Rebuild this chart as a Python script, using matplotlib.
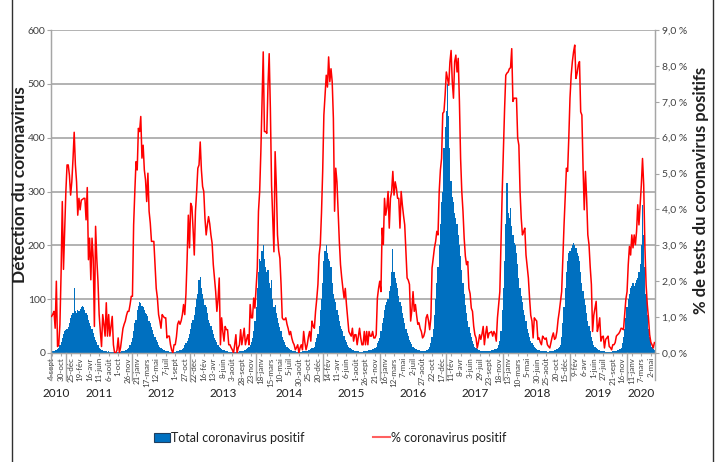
import numpy as np
import matplotlib.pyplot as plt
from matplotlib.lines import Line2D
from matplotlib.patches import Patch
import matplotlib.transforms as mtransforms

plt.rcParams['font.family'] = ['Lato', 'DejaVu Sans']

# weekly tick labels (every 8 weeks, from 4 Sept 2010)
tick_labels = ["4-sept", "30-oct",
               "25-déc", "19-fév", "16-avr", "11-juin", "6-août", "1-oct", "26-nov",
               "21-janv", "17-mars", "12-mai", "7-juil", "1-sept", "27-oct",
               "22-déc", "16-fév", "13-avr", "8-juin", "3-août", "28-sept", "23-nov",
               "18-janv", "15-mars", "10-mai", "5-juil", "30-août", "25-oct", "20-déc",
               "14-fév", "11-avr", "6-juin", "1-août", "26-sept", "21-nov",
               "16-janv", "12-mars", "7-mai", "2-juil", "27-août", "22-oct", "17-déc",
               "11-fév", "8-avr", "3-juin", "29-juil", "23-sept", "18-nov",
               "13-janv", "10-mars", "5-mai", "30-juin", "25-août", "20-oct", "15-déc",
               "9-fév", "6-avr", "1-juin", "27-juil", "21-sept", "16-nov",
               "11-janv", "7-mars", "2-mai"]
years = ["2010", "2011", "2012", "2013", "2014", "2015", "2016", "2017", "2018", "2019", "2020"]
year_sizes = [2, 7, 6, 7, 7, 6, 7, 6, 7, 6, 3]

# total positive detections per week, by season
pos_2010 = [2, 3, 3, 5, 5, 8, 10, 15, 20, 28, 35, 40, 42, 45, 48, 55, 65, 70, 75, 120,
            78, 75, 80, 78, 82, 85, 88, 85, 80, 75, 70, 62, 55, 50, 45, 38, 30, 25, 20, 15,
            10, 8, 5, 5, 4, 3, 3, 2, 3, 2, 2, 2, 1]
pos_2011 = [1, 1, 2, 1, 2, 2, 3, 3, 4, 5, 6, 8, 10, 14, 20, 28, 40, 55, 62, 80,
            88, 95, 92, 88, 85, 80, 75, 72, 68, 60, 55, 48, 42, 35, 30, 25, 20, 15, 12, 10,
            8, 6, 5, 4, 3, 3, 2, 2, 1, 1, 2, 2]
pos_2012 = [3, 3, 4, 5, 6, 8, 10, 14, 18, 22, 28, 35, 45, 55, 62, 70, 85, 100, 110, 135,
            141, 120, 110, 100, 90, 85, 75, 62, 55, 50, 42, 35, 28, 24, 20, 15, 12, 10, 8, 6,
            5, 4, 3, 3, 2, 2, 2, 1, 1, 2, 1, 2]
pos_2013 = [2, 3, 3, 4, 4, 5, 6, 8, 10, 12, 15, 20, 28, 40, 60, 85, 120, 150, 175, 170,
            190, 200, 175, 160, 150, 155, 130, 120, 135, 100, 85, 90, 75, 65, 55, 48, 40, 30, 25, 20,
            15, 12, 10, 8, 6, 5, 4, 3, 3, 2, 2, 2]
pos_2014 = [2, 2, 3, 3, 3, 4, 4, 5, 6, 8, 10, 10, 12, 20, 28, 35, 50, 80, 100, 130,
            170, 190, 200, 185, 175, 170, 160, 130, 110, 100, 95, 80, 70, 60, 50, 45, 40, 32, 25, 20,
            15, 12, 10, 8, 6, 5, 4, 3, 3, 3, 2, 2]
pos_2015 = [2, 3, 3, 3, 4, 4, 5, 5, 6, 8, 8, 10, 12, 18, 22, 28, 40, 55, 65, 80,
            90, 95, 100, 115, 125, 150, 193, 150, 140, 130, 120, 105, 95, 88, 75, 65, 55, 45, 38, 32,
            25, 20, 16, 12, 10, 8, 7, 6, 5, 4, 4, 3]
pos_2016 = [3, 4, 5, 6, 8, 12, 18, 30, 45, 70, 100, 130, 160, 200, 240, 280, 300, 380, 420, 450,
            500, 440, 380, 320, 290, 280, 260, 250, 240, 220, 200, 180, 155, 130, 110, 90, 75, 60, 48, 38,
            30, 22, 16, 12, 10, 8, 6, 5, 4, 4, 3, 3]
pos_2017 = [3, 3, 3, 4, 4, 5, 5, 6, 7, 8, 10, 15, 22, 40, 80, 120, 170, 240, 315, 260,
            250, 270, 235, 220, 205, 200, 185, 165, 140, 120, 105, 95, 80, 70, 60, 45, 38, 30, 22, 18,
            15, 12, 10, 8, 6, 5, 4, 4, 3, 3, 3, 3]
pos_2018 = [2, 2, 3, 3, 4, 4, 5, 6, 8, 10, 12, 15, 30, 55, 85, 120, 150, 170, 185, 190,
            195, 200, 205, 200, 195, 185, 180, 170, 150, 130, 115, 100, 90, 75, 60, 50, 40, 30, 22, 15,
            12, 10, 8, 6, 5, 4, 4, 3, 3, 2, 2, 2]
pos_2019 = [2, 2, 2, 3, 3, 4, 4, 5, 6, 8, 10, 18, 30, 45, 65, 85, 100, 110, 120, 125,
            130, 125, 130, 135, 140, 150, 165, 200, 275, 220, 160, 110, 70, 45, 30, 20, 12, 8, 5]

# % of positive tests per week, by season
pct_2010 = [1.02, 1.08, 1.16, 0.69, 2.0, 0.18, 0.23, 0.8, 2.25, 4.22, 2.33, 3.45, 4.5, 5.24, 5.24,
            4.95, 4.4, 4.77, 5.4, 6.15, 5.25, 4.77, 3.84, 4.31, 3.99, 4.26, 4.28, 4.31, 4.31, 3.71,
            4.61, 2.6, 3.2, 2.04, 3.2, 2.64, 0.74, 3.53, 2.64, 2.0, 1.07, 0.6, 0.18, 1.07, 0.8,
            0.47, 1.4, 0.47, 1.07, 0.47, 0.75, 1.02, 0.23]
pct_2011 = [0.0, 0.0, 0.08, 0.42, 0.0, 0.15, 0.42, 0.68, 0.8, 0.89, 1.05, 1.16, 1.16, 1.35, 1.58,
            1.58, 3.57, 4.5, 5.33, 5.1, 6.26, 6.17, 6.59, 5.43, 5.79, 5.1, 4.82, 4.22, 5.01, 3.95,
            3.62, 3.11, 3.11, 3.11, 2.46, 1.8, 1.53, 1.07, 0.9, 0.69, 1.07, 1.02, 0.98, 0.98, 0.42,
            0.47, 0.47, 0.23, 0.08, 0.0, 0.23, 0.23]
pct_2012 = [0.45, 0.8, 0.89, 0.8, 0.9, 1.07, 1.35, 1.07, 1.65, 2.64, 3.84, 2.93, 4.17, 4.08, 3.45,
            2.73, 3.95, 4.5, 5.15, 5.24, 5.88, 5.1, 4.64, 4.5, 3.75, 3.29, 3.57, 3.8, 3.6, 3.29,
            3.06, 2.46, 2.1, 1.71, 1.16, 1.5, 2.09, 0.23, 0.98, 0.6, 0.33, 0.74, 0.65, 0.65, 0.23,
            0.23, 0.15, 0.09, 0.0, 0.23, 0.51, 0.0]
pct_2013 = [0.15, 0.23, 0.65, 0.23, 0.45, 0.69, 0.23, 0.38, 0.51, 0.23, 1.35, 0.98, 0.98, 1.53, 1.25,
            1.8, 2.37, 3.95, 4.5, 5.61, 7.01, 8.39, 6.17, 6.17, 6.12, 7.46, 8.34, 6.81, 4.68, 3.75,
            2.82, 5.61, 4.68, 3.29, 2.85, 2.64, 1.91, 0.98, 0.93, 0.93, 0.98, 0.8, 0.68, 0.51, 0.6,
            0.42, 0.3, 0.23, 0.09, 0.15, 0.23, 0.0]
pct_2014 = [0.15, 0.23, 0.09, 0.6, 0.3, 0.09, 0.23, 0.45, 0.6, 0.33, 0.89, 0.75, 0.69, 1.16, 1.5,
            1.91, 2.73, 3.02, 3.9, 5.06, 6.63, 7.2, 7.74, 7.41, 8.25, 7.56, 7.92, 7.56, 6.54, 3.95,
            5.15, 4.77, 3.95, 3.11, 2.46, 2.1, 1.8, 1.53, 1.8, 1.35, 0.98, 0.6, 0.53, 0.47, 0.69,
            0.33, 0.51, 0.51, 0.23, 0.45, 0.69, 0.42]
pct_2015 = [0.23, 0.23, 0.6, 0.23, 0.6, 0.23, 0.6, 0.47, 0.47, 0.6, 0.42, 0.42, 0.51, 1.53, 1.8,
            2.0, 1.71, 3.48, 3.02, 4.31, 3.84, 4.05, 4.5, 3.48, 4.31, 4.5, 5.06, 4.4, 4.77, 4.59,
            4.31, 4.31, 3.48, 4.5, 4.13, 3.83, 3.57, 2.82, 2.09, 2.03, 1.91, 0.89, 1.2, 1.71, 1.16,
            1.35, 1.05, 0.8, 0.84, 0.68, 0.6, 0.42]
pct_2016 = [0.47, 0.6, 0.98, 1.07, 0.9, 0.65, 0.98, 2.37, 2.64, 2.93, 3.11, 3.39, 3.29, 4.5, 5.1,
            5.42, 6.68, 6.72, 7.2, 7.83, 7.65, 7.46, 8.1, 8.43, 7.56, 7.1, 8.12, 8.3, 7.83, 8.21,
            7.01, 5.42, 4.5, 3.95, 3.2, 2.7, 2.46, 2.55, 1.8, 1.65, 1.25, 1.16, 0.75, 0.51, 0.42,
            0.14, 0.3, 0.51, 0.38, 0.53, 0.74, 0.23]
pct_2017 = [0.53, 0.74, 0.42, 0.56, 0.57, 0.6, 0.47, 0.6, 0.53, 0.33, 0.98, 1.35, 1.71, 3.11, 4.5,
            5.7, 6.81, 7.74, 7.8, 7.83, 7.92, 7.95, 8.48, 7.01, 7.1, 7.1, 7.1, 5.99, 5.79, 4.5,
            3.75, 3.29, 3.38, 3.48, 2.73, 2.4, 2.09, 1.53, 1.05, 0.89, 0.42, 0.98, 0.93, 0.89, 0.38,
            0.42, 0.3, 0.23, 0.47, 0.42, 0.38, 0.42]
pct_2018 = [0.23, 0.18, 0.14, 0.29, 0.45, 0.56, 0.38, 0.42, 0.6, 0.93, 1.16, 1.43, 1.71, 2.64, 3.57,
            4.35, 5.15, 5.06, 6.0, 7.1, 7.74, 8.12, 8.39, 8.58, 7.65, 7.8, 8.03, 8.12, 6.72, 6.63,
            5.15, 3.99, 5.06, 4.31, 3.29, 3.02, 2.4, 1.91, 0.6, 1.05, 1.25, 1.44, 0.6, 0.75, 0.98,
            0.33, 0.45, 0.47, 0.14, 0.38, 0.42, 0.47]
pct_2019 = [0.18, 0.15, 0.09, 0.23, 0.23, 0.29, 0.47, 0.51, 0.54, 0.6, 0.69, 0.68, 0.65, 1.07, 1.5,
            1.71, 2.46, 2.97, 2.73, 3.29, 2.93, 3.29, 3.02, 3.39, 4.13, 3.57, 4.13, 4.68, 5.42, 4.68,
            2.97, 1.91, 1.35, 0.98, 0.51, 0.3, 0.23, 0.14, 0.29]

positifs = np.array(pos_2010 + pos_2011 + pos_2012 + pos_2013 + pos_2014 +
                    pos_2015 + pos_2016 + pos_2017 + pos_2018 + pos_2019)
pourcent = np.array(pct_2010 + pct_2011 + pct_2012 + pct_2013 + pct_2014 +
                    pct_2015 + pct_2016 + pct_2017 + pct_2018 + pct_2019)
weeks_bar = np.arange(len(positifs))
weeks_line = np.arange(len(pourcent))
n_weeks = max(len(positifs), len(pourcent))

blue = '#0070C0'
red = '#FF0000'
grid_gray = '#A6A6A6'
txt = '#404040'

fig = plt.figure(figsize=(7.19, 4.62), dpi=100)
ax = fig.add_axes([51 / 719, 1 - 353 / 462, 604 / 719, 323 / 462])

ax.bar(weeks_bar, positifs, width=1.0, color=blue, linewidth=0, zorder=2)
ax.set_xlim(-0.5, n_weeks - 0.5)
ax.set_ylim(0, 600)
ax.set_yticks(range(0, 601, 100))
ax.yaxis.grid(True, color=grid_gray, lw=1.2, zorder=0)
ax.set_axisbelow(True)
ax.tick_params(axis='y', labelsize=7.5, colors=txt, length=3, color=grid_gray, pad=1)

tick_pos = np.arange(len(tick_labels)) * 8
ax.set_xticks(tick_pos)
ax.set_xticklabels(tick_labels, rotation=90, fontsize=5.8, color=txt)
ax.tick_params(axis='x', length=2, color=grid_gray, pad=1)

ax.spines['top'].set_visible(False)
for s in ['left', 'right', 'bottom']:
    ax.spines[s].set_color(grid_gray)
    ax.spines[s].set_linewidth(1.0)

ax2 = ax.twinx()
ax2.plot(weeks_line, pourcent, color=red, lw=1.1, zorder=3)
ax2.set_ylim(0, 9)
ax2.set_yticks(range(0, 10))
ax2.set_yticklabels([f"{v},0 %" for v in range(0, 10)])
ax2.tick_params(axis='y', labelsize=7.5, colors=txt, length=3, color=grid_gray, pad=2)
ax2.spines['top'].set_visible(False)
for s in ['left', 'right', 'bottom']:
    ax2.spines[s].set_color(grid_gray)

# year groups under the tick labels
trans = mtransforms.blended_transform_factory(ax.transData, ax.transAxes)
start = 0
bounds = [-0.5]
for name, size in zip(years, year_sizes):
    grp = tick_pos[start:start + size]
    ax.text(grp.mean(), -0.108, name, transform=trans, ha='center', va='top',
            fontsize=8.5, color='#202020')
    start += size
    if start < len(tick_pos):
        bounds.append(tick_pos[start] - 4)
bounds.append(n_weeks - 0.5)
for b in bounds:
    ax.plot([b, b], [0, -0.085], transform=trans, color=grid_gray, lw=1.0, clip_on=False)

fig.text(20 / 719, 1 - 185 / 462, "Détection du coronavirus", rotation=90, ha='center',
         va='center', fontsize=12.5, fontweight='bold', color='#202020')
fig.text(701 / 719, 1 - 190 / 462, "% de tests du coronavirus positifs", rotation=90,
         ha='center', va='center', fontsize=12, fontweight='bold', color='#202020')

handles = [Patch(facecolor=blue, edgecolor='#1F3F60', lw=0.8),
           Line2D([], [], color='#FF6060', lw=1.5)]
fig.legend(handles, ["Total coronavirus positif", "% coronavirus positif"],
           loc='center', bbox_to_anchor=(330 / 719, 1 - 438 / 462), ncol=2, frameon=False,
           fontsize=9, handlelength=1.3, handleheight=0.8, handletextpad=0.1,
           columnspacing=5.5, labelcolor='#202020')

# frame around the figure
fig.add_artist(Line2D([12 / 719, 12 / 719], [0, 1], color='#303030', lw=1.0))
fig.add_artist(Line2D([713 / 719, 713 / 719], [0, 1], color='#303030', lw=1.0))

fig.savefig("out.png", dpi=100)
